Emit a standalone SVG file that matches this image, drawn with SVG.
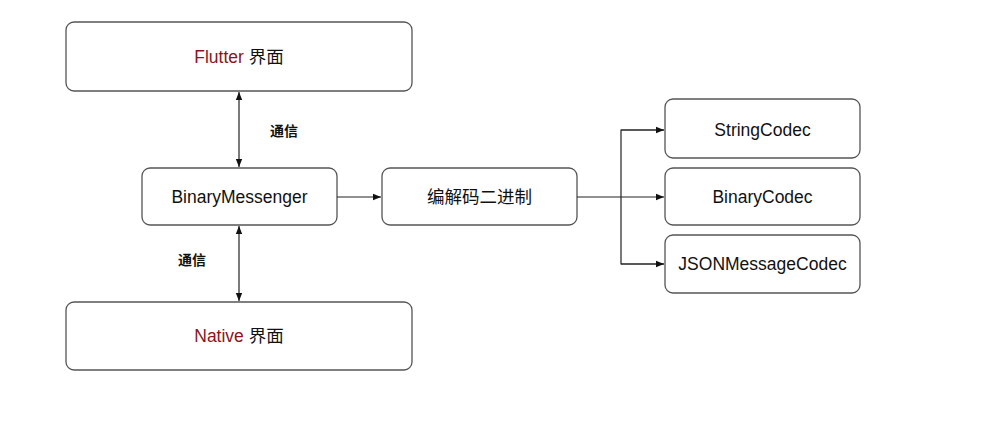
<svg xmlns="http://www.w3.org/2000/svg" width="1000" height="435" viewBox="0 0 1000 435">
<style>
.box{fill:#fff;stroke:#555;stroke-width:1.3}
.t{font-family:"Liberation Sans","Noto Sans CJK SC",sans-serif;font-size:17.5px;fill:#111;text-anchor:middle;dominant-baseline:central}
.red{fill:#8b1420}
.lbl{font-family:"Noto Sans CJK SC",sans-serif;font-size:14px;font-weight:bold;fill:#111;text-anchor:middle;dominant-baseline:central}
.c{fill:none;stroke:#222;stroke-width:1.2}
</style>
<defs>
<marker id="a" viewBox="0 0 10 10" refX="10" refY="5" markerWidth="8" markerHeight="8" markerUnits="userSpaceOnUse" orient="auto-start-reverse"><path d="M0,1 L10,5 L0,9 z" fill="#111"/></marker>
</defs>
<rect width="1000" height="435" fill="#fff"/>
<g id="flutter"><rect class="box" x="66" y="22" width="346" height="69" rx="8"/><text class="t" x="239" y="57"><tspan class="red">Flutter</tspan> 界面</text></g>
<g id="native"><rect class="box" x="66" y="302" width="346" height="68" rx="8"/><text class="t" x="239" y="336"><tspan class="red">Native</tspan> 界面</text></g>
<g id="messenger"><rect class="box" x="142" y="168" width="195" height="57" rx="8"/><text class="t" x="239.5" y="197">BinaryMessenger</text></g>
<g id="codec"><rect class="box" x="382" y="168" width="195" height="57" rx="8"/><text class="t" x="479.5" y="197">编解码二进制</text></g>
<g id="string"><rect class="box" x="665" y="99" width="195" height="59" rx="8"/><text class="t" x="762.5" y="130">StringCodec</text></g>
<g id="binary"><rect class="box" x="665" y="168" width="195" height="57" rx="8"/><text class="t" x="762.5" y="197">BinaryCodec</text></g>
<g id="json"><rect class="box" x="665" y="235" width="195" height="58" rx="8"/><text class="t" x="762.5" y="264">JSONMessageCodec</text></g>
<g id="connectors">
<line class="c" x1="239" y1="92" x2="239" y2="167" marker-start="url(#a)" marker-end="url(#a)"/>
<line class="c" x1="239" y1="226" x2="239" y2="301" marker-start="url(#a)" marker-end="url(#a)"/>
<line class="c" x1="337" y1="197" x2="381" y2="197" marker-end="url(#a)"/>
<polyline class="c" points="577,197 621,197"/>
<polyline class="c" points="664,130 621,130 621,264 664,264"/>
<line class="c" x1="621" y1="130" x2="664" y2="130" marker-end="url(#a)"/>
<line class="c" x1="621" y1="197" x2="664" y2="197" marker-end="url(#a)"/>
<line class="c" x1="621" y1="264" x2="664" y2="264" marker-end="url(#a)"/>
<text class="lbl" x="284" y="130">通信</text>
<text class="lbl" x="192" y="259">通信</text>
</g>
</svg>
